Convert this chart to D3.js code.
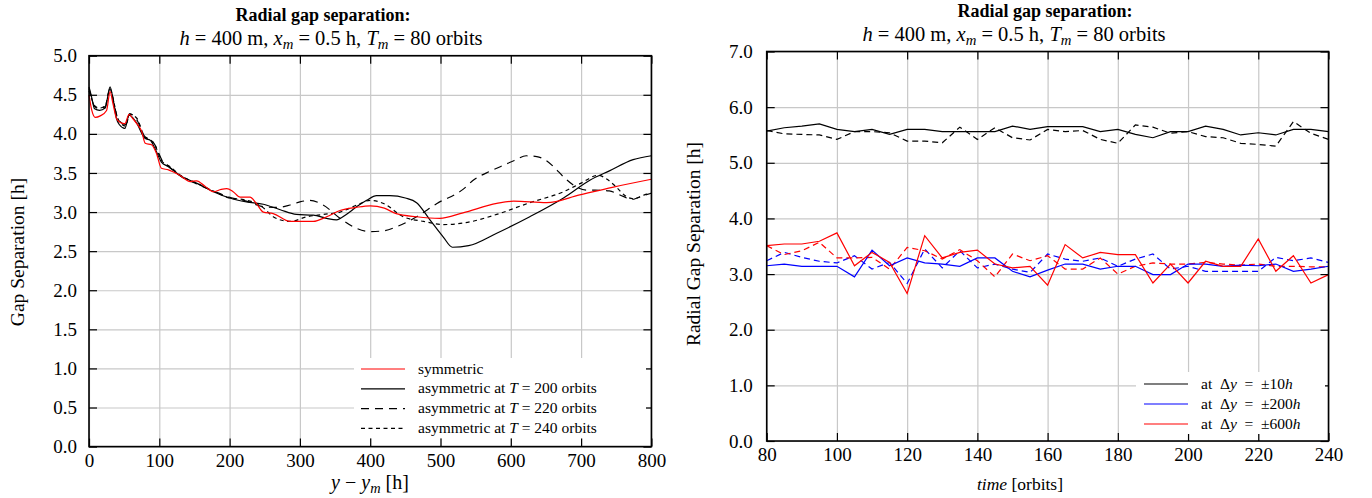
<!DOCTYPE html>
<html><head><meta charset="utf-8">
<script src="https://cdn.jsdelivr.net/npm/d3@7"></script>
<style>
body{margin:0;background:#fff;}
svg text{font-family:"Liberation Serif","Times New Roman",serif;fill:#000;white-space:pre;}
</style></head><body>
<svg id="c" width="1372" height="498"></svg>
<script>
// ---------------- LEFT PANEL DATA ----------------
const leftXTicks = [0,100,200,300,400,500,600,700,800];
const leftYTicks = [0.0,0.5,1.0,1.5,2.0,2.5,3.0,3.5,4.0,4.5,5.0];

const symX = [0,4,9,16,25,30,34,39,44,51,57,62,68,75,80,89,96,103,113,129,144,153,165,177,188,196,205,215,229,238,248,262,286,319,338,357,380,400,420,437,466,499,532,580,604,651,698,746,800];
const symY = [4.50,4.30,4.21,4.23,4.30,4.54,4.39,4.20,4.15,4.13,4.25,4.20,4.13,4.03,3.88,3.86,3.75,3.56,3.54,3.47,3.39,3.40,3.33,3.26,3.29,3.30,3.26,3.19,3.19,3.11,3.00,2.98,2.88,2.88,2.94,3.02,3.06,3.08,3.05,2.98,2.94,2.92,2.99,3.11,3.14,3.12,3.22,3.32,3.42];

const t200X = [0,3,8,15,23,30,35,39,43,51,57,67,80,87,94,103,113,129,153,177,200,224,248,272,295,319,338,352,366,381,395,409,428,450,466,485,504,517,540,580,627,675,713,741,774,800];
const t200Y = [4.60,4.50,4.32,4.30,4.33,4.60,4.40,4.20,4.12,4.07,4.24,4.15,3.94,3.92,3.81,3.64,3.58,3.47,3.37,3.26,3.18,3.13,3.10,3.03,2.97,2.96,2.92,2.90,2.97,3.07,3.15,3.21,3.21,3.18,3.12,2.90,2.68,2.55,2.57,2.73,2.94,3.18,3.41,3.53,3.67,3.72];

const t220X = [0,3,8,15,23,30,35,39,45,52,58,68,80,88,95,104,114,130,153,177,200,224,248,270,286,300,314,333,357,381,400,419,437,466,495,532,547,570,585,605,622,637,650,662,675,690,708,720,740,760,772,785,800];
const t220Y = [4.58,4.48,4.35,4.32,4.35,4.58,4.42,4.25,4.15,4.12,4.26,4.18,3.96,3.93,3.84,3.66,3.58,3.46,3.36,3.27,3.19,3.14,3.07,3.06,3.09,3.13,3.15,3.09,2.92,2.79,2.75,2.76,2.81,2.94,3.11,3.29,3.41,3.52,3.58,3.66,3.72,3.71,3.66,3.57,3.45,3.34,3.28,3.28,3.27,3.20,3.16,3.20,3.24];

const t240X = [0,3,8,15,23,30,35,40,45,52,58,68,80,88,95,104,114,130,153,177,200,220,240,250,262,286,310,333,357,381,400,419,447,476,504,533,580,627,675,700,724,737,750,764,775,790,800];
const t240Y = [4.55,4.47,4.36,4.33,4.36,4.57,4.42,4.22,4.14,4.10,4.25,4.20,3.95,3.92,3.83,3.65,3.59,3.47,3.37,3.27,3.18,3.16,3.10,3.04,2.94,2.88,2.94,2.97,3.00,3.09,3.15,3.11,2.94,2.88,2.84,2.86,2.97,3.12,3.26,3.37,3.47,3.42,3.32,3.20,3.17,3.22,3.24];

// ---------------- RIGHT PANEL DATA ----------------
const rightXTicks = [80,100,120,140,160,180,200,220,240];
const rightYTicks = [0,1,2,3,4,5,6,7];
const timeOrbits = [80,85,90,95,100,105,110,115,120,125,130,135,140,145,150,155,160,165,170,175,180,185,190,195,200,205,210,215,220,225,230,235,240];

const black10Solid = [5.57,5.63,5.66,5.70,5.60,5.56,5.60,5.51,5.60,5.60,5.56,5.56,5.56,5.56,5.66,5.60,5.65,5.65,5.65,5.56,5.60,5.51,5.45,5.56,5.56,5.66,5.60,5.50,5.54,5.50,5.60,5.60,5.56];
const black10Dash  = [5.58,5.52,5.51,5.50,5.42,5.56,5.56,5.54,5.39,5.39,5.36,5.64,5.42,5.63,5.45,5.41,5.60,5.56,5.58,5.42,5.35,5.68,5.64,5.53,5.56,5.47,5.45,5.35,5.33,5.30,5.74,5.53,5.42];
const blue200Solid = [3.15,3.18,3.14,3.14,3.14,2.95,3.43,3.15,3.29,3.20,3.18,3.14,3.29,3.29,3.05,2.95,3.07,3.18,3.18,3.09,3.14,3.14,2.99,2.99,3.18,3.18,3.14,3.16,3.15,3.18,3.05,3.09,3.14];
const blue200Dash  = [3.24,3.39,3.30,3.23,3.20,3.33,3.09,3.21,2.83,3.45,3.11,3.42,3.11,3.18,3.09,3.03,3.36,3.27,3.23,3.29,3.14,3.27,3.36,3.09,3.14,3.05,3.05,3.05,3.05,3.30,3.24,3.29,3.21];
const red600Solid  = [3.51,3.54,3.54,3.59,3.74,3.15,3.39,3.21,2.65,3.69,3.29,3.39,3.43,3.18,3.11,3.14,2.80,3.53,3.29,3.39,3.35,3.35,2.84,3.18,2.84,3.23,3.14,3.14,3.63,3.05,3.33,2.84,2.99];
const red600Dash   = [3.51,3.35,3.42,3.57,3.29,3.29,3.30,3.09,3.48,3.42,3.27,3.44,3.24,2.95,3.36,3.24,3.33,3.09,3.09,3.29,3.00,3.14,3.20,3.18,3.18,3.21,3.18,3.16,3.18,3.14,3.14,3.13,3.13];

// ---------------- DRAWING ----------------
const svg = d3.select("#c");
const GRID = "#c8c8c8";

function rich(sel, parts){
  parts.forEach(p=>{
    const [txt, st] = p;
    const t = sel.append("tspan").text(txt);
    if(st==="i") t.attr("font-style","italic");
    if(st==="sub"){ t.attr("font-style","italic").attr("font-size","72%").attr("dy","4"); }
    if(st==="after") t.attr("dy","-4");
  });
}

function panel(cfg){
  const g = svg.append("g");
  const x = d3.scaleLinear().domain(cfg.xDomain).range([cfg.left,cfg.right]);
  const y = d3.scaleLinear().domain(cfg.yDomain).range([cfg.bottom,cfg.top]);
  const W = cfg.right-cfg.left, H = cfg.bottom-cfg.top;
  g.append("g").attr("transform",`translate(0,${cfg.bottom})`)
    .call(d3.axisBottom(x).tickValues(cfg.xTicks).tickSize(-H).tickFormat(""))
    .call(s=>{s.select(".domain").remove(); s.selectAll("line").attr("stroke",GRID).attr("stroke-width",1.2);});
  g.append("g").attr("transform",`translate(${cfg.left},0)`)
    .call(d3.axisLeft(y).tickValues(cfg.yTicks).tickSize(-W).tickFormat(""))
    .call(s=>{s.select(".domain").remove(); s.selectAll("line").attr("stroke",GRID).attr("stroke-width",1.2);});
  return {g,x,y,W,H};
}

function frame(p,cfg){
  const {g,x,y} = p;
  const fs = cfg.tickFont;
  const ax = [
    g.append("g").attr("transform",`translate(0,${cfg.bottom})`).call(d3.axisBottom(x).tickValues(cfg.xTicks).tickSize(-8).tickPadding(cfg.xPad).tickFormat(d3.format("d"))),
    g.append("g").attr("transform",`translate(${cfg.left},0)`).call(d3.axisLeft(y).tickValues(cfg.yTicks).tickSize(-8).tickPadding(cfg.yPad).tickFormat(d3.format(".1f"))),
    g.append("g").attr("transform",`translate(0,${cfg.top})`).call(d3.axisTop(x).tickValues(cfg.xTicks).tickSize(-8).tickFormat("")),
    g.append("g").attr("transform",`translate(${cfg.right},0)`).call(d3.axisRight(y).tickValues(cfg.yTicks).tickSize(-8).tickFormat(""))
  ];
  ax.forEach(a=>{
    a.select(".domain").remove();
    a.selectAll("line").attr("stroke","#000").attr("stroke-width",1.2);
    a.selectAll("text").attr("font-family","Liberation Serif").attr("font-size",fs).attr("fill","#000");
  });
  g.append("rect").attr("x",cfg.left).attr("y",cfg.top).attr("width",cfg.right-cfg.left).attr("height",cfg.bottom-cfg.top)
    .attr("fill","none").attr("stroke","#000").attr("stroke-width",1.6);
}

function titles(cfg){
  svg.append("text").attr("x",cfg.titleX).attr("y",cfg.titleY).attr("text-anchor","middle")
    .attr("font-size",18).attr("font-weight","bold").text("Radial gap separation:");
  const st = svg.append("text").attr("x",cfg.subX).attr("y",cfg.subY).attr("text-anchor","middle").attr("font-size",20.5);
  rich(st,[["h","i"],[" = 400 m, "],["x","i"],["m","sub"],[" = 0.5 h, ","after"],["T","i"],["m","sub"],[" = 80 orbits","after"]]);
}

// LEFT
const LC = {left:89,right:651.4,top:55.7,bottom:446.6,xDomain:[0,800],yDomain:[0,5],xTicks:leftXTicks,yTicks:leftYTicks,tickFont:19,xPad:7,yPad:12,titleX:323,titleY:20.5,subX:331,subY:45};
const LP = panel(LC);
const lineL = d3.line().x(d=>LP.x(d[0])).y(d=>LP.y(d[1])).curve(d3.curveMonotoneX);
const leftSeries = [
  {xs:t240X, ys:t240Y, color:"#000", dash:"4,3.5"},
  {xs:t220X, ys:t220Y, color:"#000", dash:"8,6"},
  {xs:t200X, ys:t200Y, color:"#000", dash:null},
  {xs:symX, ys:symY, color:"#ff0000", dash:null}
];
leftSeries.forEach(s=>{
  LP.g.append("path").datum(s.xs.map((v,i)=>[v,s.ys[i]])).attr("d",lineL)
    .attr("fill","none").attr("stroke",s.color).attr("stroke-width",1.2)
    .attr("stroke-dasharray",s.dash);
});
{
  const lg = svg.append("g");
  lg.append("rect").attr("x",354).attr("y",358).attr("width",292).attr("height",80).attr("fill","#fff");
  const rows = [
    {color:"#ff0000",dash:null,parts:[["symmetric"]]},
    {color:"#000",dash:null,parts:[["asymmetric at "],["T","i"],[" = 200 orbits"]]},
    {color:"#000",dash:"8,6",parts:[["asymmetric at "],["T","i"],[" = 220 orbits"]]},
    {color:"#000",dash:"4,3.5",parts:[["asymmetric at "],["T","i"],[" = 240 orbits"]]}
  ];
  rows.forEach((r,i)=>{
    const yy = 369 + i*19.8;
    lg.append("line").attr("x1",361).attr("x2",405).attr("y1",yy).attr("y2",yy)
      .attr("stroke",r.color).attr("stroke-width",1.2).attr("stroke-dasharray",r.dash);
    const t = lg.append("text").attr("x",418).attr("y",yy+4.5).attr("font-size",15.5);
    rich(t,r.parts);
  });
}
frame(LP,LC);
titles(LC);
svg.append("text").attr("transform","translate(23.5,252) rotate(-90)").attr("text-anchor","middle").attr("font-size",19.5).text("Gap Separation [h]");
{
  const t = svg.append("text").attr("x",370).attr("y",489).attr("text-anchor","middle").attr("font-size",20);
  rich(t,[["y","i"],[" − "],["y","i"],["m","sub"],[" [h]","after"]]);
}

// RIGHT
const RC = {left:766.7,right:1328.5,top:51.5,bottom:441,xDomain:[80,240],yDomain:[0,7],xTicks:rightXTicks,yTicks:rightYTicks,tickFont:19,xPad:7,yPad:14,titleX:1045,titleY:16.5,subX:1014,subY:40.8};
const RP = panel(RC);
const lineR = d3.line().x(d=>RP.x(d[0])).y(d=>RP.y(d[1]));
const rightSeries = [
  {ys:black10Dash, color:"#000", dash:"6,4"},
  {ys:blue200Dash, color:"#0000ff", dash:"6,4"},
  {ys:red600Dash, color:"#ff0000", dash:"6,4"},
  {ys:black10Solid, color:"#000", dash:null},
  {ys:blue200Solid, color:"#0000ff", dash:null},
  {ys:red600Solid, color:"#ff0000", dash:null}
];
rightSeries.forEach(s=>{
  RP.g.append("path").datum(timeOrbits.map((t,i)=>[t,s.ys[i]])).attr("d",lineR)
    .attr("fill","none").attr("stroke",s.color).attr("stroke-width",1.2)
    .attr("stroke-dasharray",s.dash);
});
{
  const lg = svg.append("g");
  lg.append("rect").attr("x",1136).attr("y",372).attr("width",189).attr("height",62).attr("fill","#fff");
  const rows = [
    {color:"#000",val:"±10"},
    {color:"#0000ff",val:"±200"},
    {color:"#ff0000",val:"±600"}
  ];
  rows.forEach((r,i)=>{
    const yy = 384 + i*20;
    lg.append("line").attr("x1",1144).attr("x2",1188).attr("y1",yy).attr("y2",yy)
      .attr("stroke",r.color).attr("stroke-width",1.2);
    const t = lg.append("text").attr("x",1201).attr("y",yy+4.5).attr("font-size",15.5);
    rich(t,[["at  Δ"],["y","i"],["  =  "+r.val],["h","i"]]);
  });
}
frame(RP,RC);
titles(RC);
svg.append("text").attr("transform","translate(699.5,244) rotate(-90)").attr("text-anchor","middle").attr("font-size",19.5).text("Radial Gap Separation [h]");
{
  const t = svg.append("text").attr("x",1020).attr("y",490).attr("text-anchor","middle").attr("font-size",17.5);
  rich(t,[["time","i"],[" [orbits]"]]);
}
</script>
</body></html>
